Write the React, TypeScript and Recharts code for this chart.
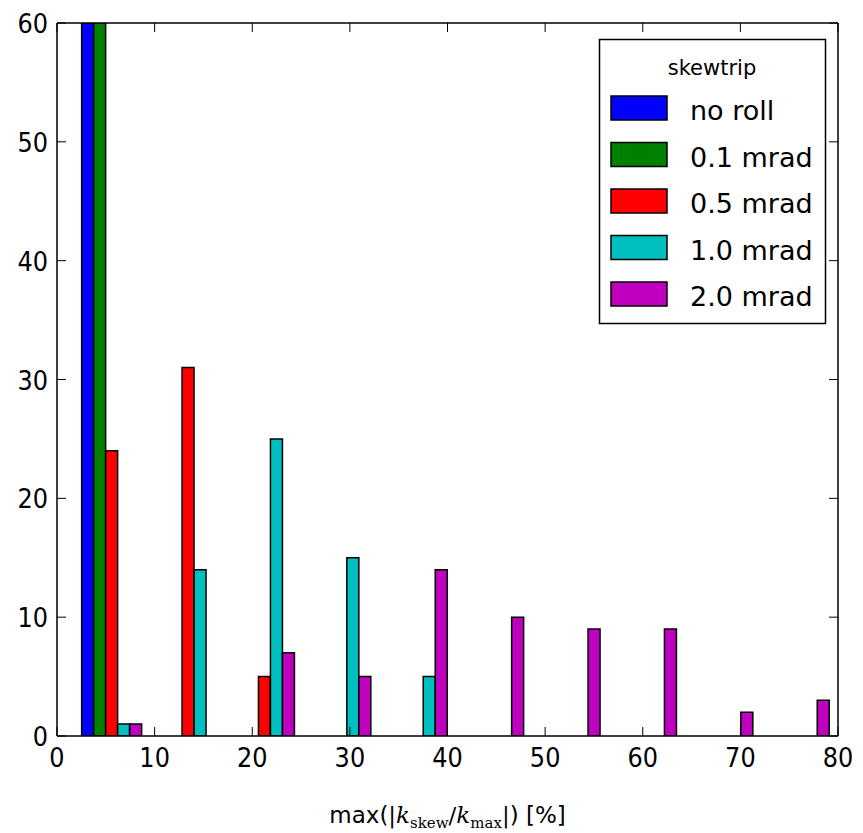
import React from 'react';
import { BarChart, Bar, XAxis, YAxis } from 'recharts';

// Histogram bins (centres, in %), 10 equal bins
const binCenters = [5.7, 13.5, 21.3, 29.2, 37.0, 44.8, 52.7, 60.5, 68.3, 76.2];
const noRoll = [60, 0, 0, 0, 0, 0, 0, 0, 0, 0];
const mrad01 = [60, 0, 0, 0, 0, 0, 0, 0, 0, 0];
const mrad05 = [24, 31, 5, 0, 0, 0, 0, 0, 0, 0];
const mrad10 = [1, 14, 25, 15, 5, 0, 0, 0, 0, 0];
const mrad20 = [1, 0, 7, 5, 14, 10, 9, 9, 2, 3];

const seriesKeys = ['noRoll', 'mrad01', 'mrad05', 'mrad10', 'mrad20'];
const seriesNames = ['no roll', '0.1 mrad', '0.5 mrad', '1.0 mrad', '2.0 mrad'];
const seriesColors = ['#0000ff', '#008000', '#ff0000', '#00bfbf', '#bf00bf'];
const legendTitle = 'skewtrip';

const xTicks = [0, 10, 20, 30, 40, 50, 60, 70, 80];
const yTicks = [0, 10, 20, 30, 40, 50, 60];

const data = binCenters.map((c, i) => ({
  bin: c,
  noRoll: noRoll[i],
  mrad01: mrad01[i],
  mrad05: mrad05[i],
  mrad10: mrad10[i],
  mrad20: mrad20[i],
}));

const FONT = 'DejaVu Sans';
const TICK_FS = 24;
const TICK_STRETCH = 1.12;

const BottomTick = (props: any) => {
  const { x, y, payload } = props;
  return (
    <g>
      <line x1={x} y1={y} x2={x} y2={y - 9} stroke="#000" strokeWidth={1} />
      <text
        transform={`translate(${x}, ${y + 31}) scale(1, ${TICK_STRETCH})`}
        x={0}
        y={0}
        textAnchor="middle"
        fontSize={TICK_FS}
        fontFamily={FONT}
        fill="#000"
      >
        {payload.value}
      </text>
    </g>
  );
};

const TopTick = (props: any) => {
  const { x, y } = props;
  return <line x1={x} y1={y} x2={x} y2={y + 9} stroke="#000" strokeWidth={1} />;
};

const LeftTick = (props: any) => {
  const { x, y, payload } = props;
  return (
    <g>
      <line x1={x} y1={y} x2={x + 9} y2={y} stroke="#000" strokeWidth={1} />
      <text
        transform={`translate(${x - 9}, ${y + 10}) scale(1, ${TICK_STRETCH})`}
        x={0}
        y={0}
        textAnchor="end"
        fontSize={TICK_FS}
        fontFamily={FONT}
        fill="#000"
      >
        {payload.value}
      </text>
    </g>
  );
};

const RightTick = (props: any) => {
  const { x, y } = props;
  return <line x1={x} y1={y} x2={x - 9} y2={y} stroke="#000" strokeWidth={1} />;
};

const XLabel = (props: any) => {
  const vb = props.viewBox || {};
  const cx = vb.x + vb.width / 2;
  const cy = vb.y + 87;
  const serif = 'DejaVu Serif';
  return (
    <text x={cx} y={cy} textAnchor="middle" fontSize={23} fontFamily={FONT} fill="#000">
      <tspan>max(</tspan>
      <tspan fontFamily={serif}>|</tspan>
      <tspan fontFamily={serif} fontStyle="italic">k</tspan>
      <tspan fontFamily={serif} fontSize={15} dy={5}>skew</tspan>
      <tspan fontFamily={serif} dy={-5}>/</tspan>
      <tspan fontFamily={serif} fontStyle="italic">k</tspan>
      <tspan fontFamily={serif} fontSize={15} dy={5}>max</tspan>
      <tspan fontFamily={serif} dy={-5}>|</tspan>
      <tspan>) [%]</tspan>
    </text>
  );
};

const LegendBox = () => {
  const left = 599.5;
  const top = 39.5;
  return (
    <svg width={863} height={833} style={{ position: 'absolute', left: 0, top: 0, pointerEvents: 'none' }}>
      <rect x={left} y={top} width={226} height={284} fill="#fff" stroke="#000" strokeWidth={1.5} />
      <text x={712} y={75} textAnchor="middle" fontSize={21} fontFamily={FONT} fill="#000">
        {legendTitle}
      </text>
      {seriesNames.map((name, i) => (
        <g key={name}>
          <rect
            x={611}
            y={96 + 46.5 * i}
            width={56}
            height={24}
            fill={seriesColors[i]}
            stroke="#000"
            strokeWidth={1.5}
          />
          <text x={690} y={120 + 46.5 * i} fontSize={27} fontFamily={FONT} fill="#000">
            {name}
          </text>
        </g>
      ))}
    </svg>
  );
};

export default function App() {
  return (
    <div style={{ position: 'absolute', left: 0, top: 0, width: 863, height: 833, background: '#fff' }}>
      <BarChart
        width={863}
        height={833}
        data={data}
        margin={{ top: 22, right: 24, bottom: 96, left: 56 }}
        barCategoryGap="10%"
        barGap={0}
      >
        <XAxis xAxisId="cat" dataKey="bin" type="category" hide height={0} padding={{ left: 17, right: 0 }} />
        <XAxis
          xAxisId="num"
          dataKey="bin"
          type="number"
          domain={[0, 80]}
          allowDataOverflow
          ticks={xTicks}
          interval={0}
          height={1}
          tickSize={0}
          tickMargin={0}
          tickLine={false}
          tick={<BottomTick />}
          axisLine={{ stroke: '#000', strokeWidth: 1.5 }}
          label={<XLabel />}
        />
        <XAxis
          xAxisId="top"
          dataKey="bin"
          orientation="top"
          type="number"
          domain={[0, 80]}
          allowDataOverflow
          ticks={xTicks}
          interval={0}
          height={1}
          tickSize={0}
          tickMargin={0}
          tickLine={false}
          tick={<TopTick />}
          axisLine={{ stroke: '#000', strokeWidth: 1.5 }}
        />
        <YAxis
          yAxisId="left"
          type="number"
          domain={[0, 60]}
          allowDataOverflow
          ticks={yTicks}
          interval={0}
          width={1}
          tickSize={0}
          tickMargin={0}
          tickLine={false}
          tick={<LeftTick />}
          axisLine={{ stroke: '#000', strokeWidth: 1.5 }}
        />
        <YAxis
          yAxisId="right"
          orientation="right"
          type="number"
          domain={[0, 60]}
          allowDataOverflow
          ticks={yTicks}
          interval={0}
          width={1}
          tickSize={0}
          tickMargin={0}
          tickLine={false}
          tick={<RightTick />}
          axisLine={{ stroke: '#000', strokeWidth: 1.5 }}
        />
        {seriesKeys.map((k, i) => (
          <Bar
            key={k}
            dataKey={k}
            name={seriesNames[i]}
            xAxisId="cat"
            yAxisId="left"
            fill={seriesColors[i]}
            stroke="#000"
            strokeWidth={1.5}
            isAnimationActive={false}
          />
        ))}
      </BarChart>
      <LegendBox />
    </div>
  );
}
